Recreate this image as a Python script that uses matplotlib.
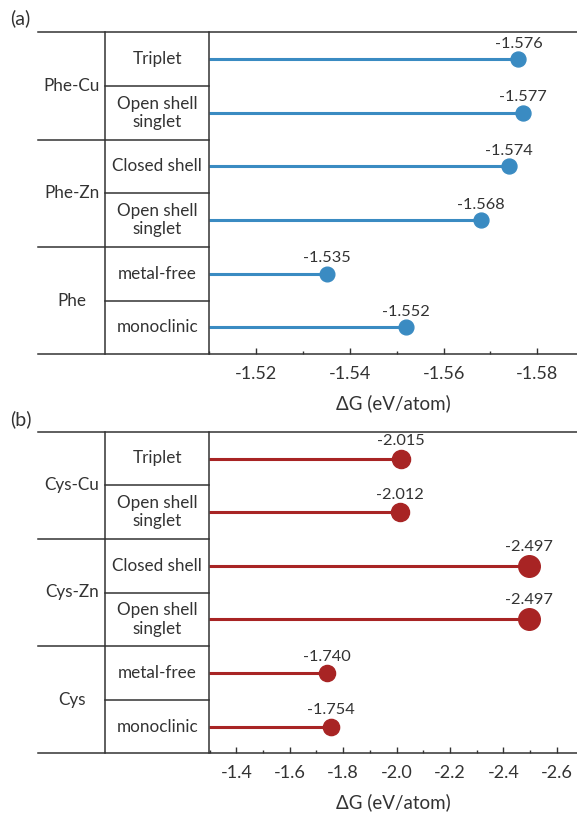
import matplotlib
matplotlib.use("Agg")
import matplotlib.pyplot as plt
from matplotlib.ticker import AutoMinorLocator
from matplotlib.transforms import blended_transform_factory

plt.rcParams['font.family'] = ['Lato', 'DejaVu Sans']
plt.rcParams['axes.unicode_minus'] = False

# data
states = ["Triplet", "Open shell\nsinglet", "Closed shell", "Open shell\nsinglet",
          "metal-free", "monoclinic"]
groups_a = ["Phe-Cu", "Phe-Zn", "Phe"]
groups_b = ["Cys-Cu", "Cys-Zn", "Cys"]
dg_a = [-1.576, -1.577, -1.574, -1.568, -1.535, -1.552]
dg_b = [-2.015, -2.012, -2.497, -2.497, -1.740, -1.754]
ticks_a = [-1.52, -1.54, -1.56, -1.58]
ticks_b = [-1.4, -1.6, -1.8, -2.0, -2.2, -2.4, -2.6]

W, H = 577, 814
INK = '#333333'


def panel(ax, groups, vals, ticks, fmt, xlim, color):
    n = len(states)
    ys = list(range(n))
    ax.set_xlim(*xlim)
    ax.set_ylim(n - 0.5, -0.5)
    for s in ax.spines.values():
        s.set_visible(False)

    ax.hlines(ys, xlim[0], vals, color=color, lw=2.2, zorder=2)
    for y, v in zip(ys, vals):
        ms = (3.6 + 7.2 * abs(v)) * 0.72
        ax.plot(v, y, 'o', ms=ms, color=color, zorder=3, clip_on=False)
        ax.annotate(f"{v:.3f}", (v, y), xytext=(0, ms / 2 + 5.8),
                    textcoords='offset points', ha='center', va='center',
                    fontsize=11.8, color=INK)

    # table on the left, drawn in axes-x / data-y coords
    tr = blended_transform_factory(ax.transAxes, ax.transData)
    aw = ax.get_position().width * W
    x0 = (38.3 - 209) / aw
    x1 = (105.3 - 209) / aw
    kw = dict(color=INK, lw=1.1, transform=tr, clip_on=False, zorder=4)
    ax.plot([x0, 1], [-0.5, -0.5], **kw)
    ax.plot([x0, 1], [n - 0.5, n - 0.5], **kw)
    ax.plot([x1, x1], [-0.5, n - 0.5], **kw)
    ax.plot([0, 0], [-0.5, n - 0.5], **kw)
    for k in range(n - 1):
        if k % 2 == 1:
            ax.plot([x0, 0], [k + 0.5, k + 0.5], **kw)
        else:
            ax.plot([x1, 0], [k + 0.5, k + 0.5], **kw)
    for k, s in enumerate(states):
        ax.text(x1 / 2, k, s, transform=tr, ha='center', va='center',
                fontsize=12.3, color=INK, linespacing=1.2)
    for g, s in enumerate(groups):
        ax.text((x0 + x1) / 2, 2 * g + 0.5, s, transform=tr, ha='center',
                va='center', fontsize=12.3, color=INK)

    ax.set_yticks([])
    ax.set_xticks(ticks)
    ax.set_xticklabels([fmt.format(t) for t in ticks])
    ax.xaxis.set_minor_locator(AutoMinorLocator(2))
    ax.tick_params(axis='x', which='major', direction='in', length=4, width=1,
                   pad=8.5, labelsize=13, color=INK, labelcolor=INK)
    ax.tick_params(axis='x', which='minor', direction='in', length=2, width=1,
                   color=INK)
    ax.set_xlabel("ΔG (eV/atom)", fontsize=13.5, color=INK, labelpad=9)


fig = plt.figure(figsize=(W / 100, H / 100), dpi=100)
left = 209 / W
ax_a = fig.add_axes([left, 1 - 354.3 / H, 1 - left, (354.3 - 32.3) / H])
ax_b = fig.add_axes([left, 1 - 753.3 / H, 1 - left, (753.3 - 431.7) / H])

panel(ax_a, groups_a, dg_a, ticks_a, "{:.2f}", (-1.5099, -1.5885), '#3a8bc2')
panel(ax_b, groups_b, dg_b, ticks_b, "{:.1f}", (-1.2976, -2.676), '#a82424')

fig.text(10 / W, 1 - 18 / H, "(a)", fontsize=14, va='center', color=INK)
fig.text(10 / W, 1 - 419 / H, "(b)", fontsize=14, va='center', color=INK)

fig.savefig("out.png", dpi=100)
